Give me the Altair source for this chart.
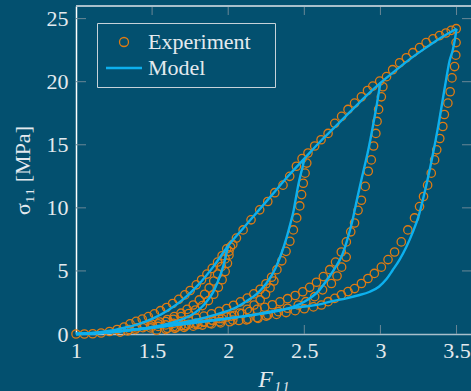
import altair as alt
import pandas as pd

# ---------------- data ----------------
series_names = ["Experiment", "Model"]

x_ticks = [1.5, 2.0, 2.5, 3.0, 3.5]
y_ticks = [5, 10, 15, 20, 25]
x_labels = [1, 1.5, 2, 2.5, 3, 3.5]
y_labels = [0, 5, 10, 15, 20, 25]

# Model: primary loading curve
m_primary_F = [1.00, 1.10, 1.20, 1.30, 1.40, 1.50, 1.60, 1.70, 1.80, 1.90, 2.00, 2.10, 2.20,
               2.30, 2.40, 2.50, 2.60, 2.70, 2.80, 2.90, 3.00, 3.10, 3.20, 3.30, 3.40, 3.50]
m_primary_S = [0.00, 0.08, 0.22, 0.45, 0.75, 1.20, 1.85, 2.70, 3.85, 5.30, 7.00, 8.40, 9.80,
               11.20, 12.60, 13.90, 15.20, 16.40, 17.60, 18.80, 19.90, 20.90, 21.85, 22.70, 23.50, 24.20]
# Model: unloading curves
m_un1_F = [2.00, 1.99, 1.975, 1.955, 1.93, 1.90, 1.86, 1.81, 1.75, 1.68, 1.60, 1.50, 1.40, 1.30, 1.20, 1.10, 1.00]
m_un1_S = [7.00, 6.50, 5.70, 4.90, 4.10, 3.30, 2.60, 1.95, 1.45, 1.10, 0.80, 0.55, 0.37, 0.22, 0.11, 0.04, 0.00]
m_un2_F = [2.50, 2.49, 2.475, 2.46, 2.445, 2.43, 2.405, 2.38, 2.35, 2.31, 2.25, 2.19, 2.12, 2.05,
           1.95, 1.80, 1.60, 1.40, 1.20, 1.00]
m_un2_S = [13.90, 13.30, 12.60, 11.80, 10.80, 9.80, 8.60, 7.50, 6.40, 5.20, 4.00, 3.20, 2.60, 2.10,
           1.65, 1.15, 0.70, 0.38, 0.13, 0.00]
m_un3_F = [3.00, 2.99, 2.975, 2.96, 2.94, 2.915, 2.885, 2.85, 2.82, 2.79, 2.75, 2.70, 2.65, 2.60,
           2.50, 2.40, 2.25, 2.10, 1.90, 1.70, 1.50, 1.30, 1.10, 1.00]
m_un3_S = [19.90, 19.20, 18.10, 17.10, 15.80, 14.30, 12.75, 10.90, 9.20, 7.80, 6.30, 5.20, 4.30, 3.50,
           2.55, 2.05, 1.65, 1.40, 1.10, 0.80, 0.50, 0.25, 0.06, 0.00]
m_un4_F = [3.50, 3.49, 3.475, 3.455, 3.425, 3.38, 3.337, 3.29, 3.25, 3.21, 3.17, 3.126, 3.08, 3.04,
           2.99, 2.93, 2.85, 2.776, 2.67, 2.60, 2.45, 2.34, 2.20, 2.01, 1.80, 1.60, 1.40, 1.20, 1.00]
m_un4_S = [24.20, 23.40, 22.50, 21.70, 19.70, 16.50, 13.80, 11.20, 9.30, 8.00, 6.90, 5.90, 5.05, 4.35,
           3.75, 3.35, 3.05, 2.83, 2.57, 2.35, 2.10, 1.90, 1.60, 1.25, 0.92, 0.62, 0.36, 0.12, 0.00]

# Experiment: measured points, branch by branch
e_load1_F = [1.00, 1.055, 1.11, 1.165, 1.22, 1.27, 1.315, 1.355, 1.395, 1.435, 1.475, 1.515, 1.555,
             1.595, 1.635, 1.675, 1.715, 1.75, 1.79, 1.825, 1.86, 1.895, 1.93, 1.96, 1.99]
e_load1_S = [0.00, 0.00, 0.02, 0.08, 0.20, 0.36, 0.55, 0.80, 1.00, 1.18, 1.38, 1.60, 1.85,
             2.10, 2.42, 2.75, 3.10, 3.45, 3.90, 4.30, 4.75, 5.20, 5.70, 6.20, 6.75]
e_un1_F = [2.015, 2.005, 1.995, 1.98, 1.96, 1.935, 1.905, 1.87, 1.83, 1.785, 1.74, 1.69, 1.64, 1.59,
           1.54, 1.49, 1.44, 1.39, 1.34, 1.29]
e_un1_S = [6.90, 6.25, 5.60, 4.95, 4.30, 3.70, 3.15, 2.65, 2.25, 1.90, 1.62, 1.38, 1.17, 0.98,
           0.80, 0.64, 0.50, 0.37, 0.25, 0.15]
e_load2_F = [1.35, 1.40, 1.45, 1.50, 1.55, 1.60, 1.645, 1.69, 1.73, 1.77, 1.81, 1.845, 1.875, 1.905,
             1.93, 1.955, 1.98, 2.005, 2.03, 2.054, 2.098, 2.15, 2.207, 2.26, 2.306, 2.36, 2.404,
             2.448, 2.485]
e_load2_S = [0.35, 0.48, 0.62, 0.78, 0.95, 1.15, 1.38, 1.65, 1.95, 2.30, 2.70, 3.15, 3.65, 4.20,
             4.75, 5.35, 5.95, 6.55, 7.10, 7.60, 8.25, 9.05, 9.84, 10.50, 11.20, 11.80, 12.50,
             13.30, 13.90]
e_un2_F = [2.524, 2.516, 2.505, 2.493, 2.482, 2.47, 2.45, 2.428, 2.405, 2.38, 2.352, 2.32, 2.285,
           2.248, 2.21, 2.168, 2.125, 2.08, 2.035, 1.99, 1.94, 1.89, 1.84, 1.79, 1.74, 1.69, 1.64,
           1.59, 1.54, 1.49]
e_un2_S = [14.35, 13.55, 12.75, 11.95, 11.05, 10.15, 9.20, 8.25, 7.35, 6.55, 5.80, 5.10, 4.50,
           3.98, 3.55, 3.18, 2.85, 2.55, 2.28, 2.02, 1.80, 1.60, 1.42, 1.26, 1.12, 0.98, 0.85,
           0.72, 0.60, 0.48]
e_load3_F = [1.60, 1.66, 1.72, 1.78, 1.84, 1.90, 1.96, 2.02, 2.075, 2.125, 2.17, 2.21, 2.245, 2.275,
             2.30, 2.568, 2.61, 2.656, 2.70, 2.745, 2.787, 2.83, 2.875, 2.915, 2.95, 2.995]
e_load3_S = [0.45, 0.55, 0.66, 0.78, 0.92, 1.06, 1.22, 1.42, 1.66, 1.95, 2.30, 2.70, 3.15, 3.65,
             4.20, 14.90, 15.40, 15.90, 16.70, 17.25, 17.80, 18.30, 18.80, 19.30, 19.65, 20.05]
e_un3_F = [3.016, 3.006, 2.988, 2.978, 2.97, 2.955, 2.94, 2.92, 2.90, 2.875, 2.853, 2.83, 2.805,
           2.776, 2.743, 2.705, 2.667, 2.625, 2.58, 2.535, 2.49, 2.44, 2.39, 2.34, 2.29, 2.24,
           2.19, 2.14, 2.09, 2.04, 1.99, 1.94, 1.89, 1.84, 1.79, 1.74, 1.69, 1.64]
e_un3_S = [19.60, 18.80, 17.80, 16.85, 15.90, 14.90, 13.80, 12.90, 11.70, 10.60, 9.80, 8.80, 8.10,
           7.30, 6.50, 5.70, 5.10, 4.55, 4.10, 3.70, 3.35, 3.05, 2.80, 2.55, 2.32, 2.12,
           1.95, 1.78, 1.62, 1.48, 1.35, 1.22, 1.10, 0.98, 0.87, 0.77, 0.67, 0.58]
e_load4_F = [1.72, 1.80, 1.88, 1.945, 2.03, 2.12, 2.196, 2.26, 2.33, 2.39, 2.46, 2.51, 2.568, 2.62,
             2.678, 2.715, 2.745, 2.775, 3.04, 3.08, 3.126, 3.17, 3.213, 3.257, 3.30, 3.345,
             3.388, 3.43, 3.465, 3.498]
e_load4_S = [0.65, 0.75, 0.85, 0.98, 1.10, 1.12, 1.24, 1.50, 1.77, 2.04, 2.30, 2.56, 2.96, 3.50,
             4.00, 4.60, 5.30, 6.10, 20.40, 20.95, 21.50, 21.90, 22.30, 22.70, 23.10, 23.40,
             23.65, 23.86, 24.07, 24.20]
e_un4_F = [3.497, 3.495, 3.487, 3.47, 3.458, 3.443, 3.42, 3.41, 3.39, 3.37, 3.356, 3.334, 3.31,
           3.283, 3.257, 3.224, 3.18, 3.137, 3.093, 3.05, 3.006, 2.96, 2.918, 2.875, 2.83, 2.787,
           2.743, 2.70, 2.656, 2.612, 2.56, 2.50, 2.44, 2.38, 2.317, 2.25, 2.19, 2.13, 2.07, 2.01,
           1.95, 1.89, 1.83, 1.77, 1.71, 1.65, 1.59, 1.53]
e_un4_S = [23.10, 22.10, 21.20, 20.30, 19.20, 18.30, 17.40, 16.45, 15.50, 14.60, 13.80, 12.75, 11.80,
           10.90, 10.10, 9.20, 8.25, 7.30, 6.50, 5.90, 5.30, 4.80, 4.40, 4.00, 3.60, 3.36,
           3.10, 2.83, 2.56, 2.30, 2.15, 2.00, 1.85, 1.70, 1.55, 1.42, 1.30, 1.18, 1.07, 0.97,
           0.88, 0.80, 0.71, 0.62, 0.53, 0.45, 0.37, 0.30]

# ---------------- tables ----------------
model_rows = []
for name, F, S in [("primary", m_primary_F, m_primary_S), ("un1", m_un1_F, m_un1_S),
                   ("un2", m_un2_F, m_un2_S), ("un3", m_un3_F, m_un3_S), ("un4", m_un4_F, m_un4_S)]:
    for f, s in zip(F, S):
        model_rows.append({"branch": name, "F": f, "S": s, "series": "Model"})
model_df = pd.DataFrame(model_rows)

exp_rows = []
for F, S in [(e_load1_F, e_load1_S), (e_un1_F, e_un1_S), (e_load2_F, e_load2_S), (e_un2_F, e_un2_S),
             (e_load3_F, e_load3_S), (e_un3_F, e_un3_S), (e_load4_F, e_load4_S), (e_un4_F, e_un4_S)]:
    for f, s in zip(F, S):
        exp_rows.append({"F": f, "S": s, "series": "Experiment"})
exp_df = pd.DataFrame(exp_rows)

xt_df = pd.DataFrame({"F": x_ticks})
yt_df = pd.DataFrame({"S": y_ticks})

# ---------------- style ----------------
BG = "#03506f"
ORANGE = "#e07b12"
BLUE = "#0db0ee"
TXT = "#e4eaee"
FRAME = "#a9bfcb"
TICK = "#6a8796"
FONT = "Liberation Serif"
W, H = 395, 328

xscale = alt.Scale(domain=[1, 3.595], nice=False, zero=False)
yscale = alt.Scale(domain=[0, 26], nice=False, zero=False)

xaxis = alt.Axis(values=x_labels, format=".1~f", grid=False, ticks=False, tickSize=0,
                 domainColor=FRAME, domainWidth=1.5, labelFont=FONT, labelFontSize=22,
                 labelColor=TXT, labelPadding=6, labelFlush=False, labelOverlap=False,
                 titleFont=FONT, titleFontSize=24, titleFontStyle="italic",
                 titleFontWeight="normal", titleColor=TXT, titlePadding=6)
yaxis = alt.Axis(values=y_labels, format="d", grid=False, ticks=False, tickSize=0,
                 domainColor="#ffffff", domainWidth=1.5, labelFont=FONT, labelFontSize=22,
                 labelColor=TXT, labelPadding=8, labelFlush=False, labelOverlap=False,
                 titleFont=FONT, titleFontSize=22, titleFontWeight="normal",
                 titleColor=TXT, titlePadding=12)

X = alt.X("F:Q", scale=xscale, axis=xaxis, title="F₁₁")
Y = alt.Y("S:Q", scale=yscale, axis=yaxis, title="σ₁₁ [MPa]")

legend = alt.Legend(title=None, orient="none", legendX=21, legendY=17,
                    labelFont=FONT, labelFontSize=22, labelColor=TXT,
                    labelExpr="datum.label + '\u2800'",
                    symbolSize=81, padding=8, rowPadding=4, labelOffset=13,
                    symbolOffset=8, strokeColor="#c6d2d9", fillColor=BG)

# ---------------- layers ----------------
top_line = alt.Chart(xt_df).mark_rule(color=FRAME, strokeWidth=1.5).encode(
    x=alt.value(0), x2=alt.value(W), y=alt.value(0))

ticks_top = alt.Chart(xt_df).mark_rule(color=TICK, strokeWidth=1).encode(
    x=X, y=alt.value(0), y2=alt.value(9))
ticks_bottom = alt.Chart(xt_df).mark_rule(color=TICK, strokeWidth=1).encode(
    x=X, y=alt.value(H - 9), y2=alt.value(H))
ticks_left = alt.Chart(yt_df).mark_rule(color=TICK, strokeWidth=1).encode(
    y=Y, x=alt.value(0), x2=alt.value(10))
ticks_right = alt.Chart(yt_df).mark_rule(color=TICK, strokeWidth=1).encode(
    y=Y, x=alt.value(W - 9), x2=alt.value(W))

points = alt.Chart(exp_df).mark_point(filled=False, opacity=1, size=70).encode(
    x=X, y=Y,
    color=alt.Color("series:N", scale=alt.Scale(domain=series_names, range=[ORANGE, BLUE]), legend=legend),
    shape=alt.Shape("series:N", scale=alt.Scale(domain=series_names, range=["circle", "M-4,0H4"]), legend=legend),
    strokeWidth=alt.StrokeWidth("series:N", scale=alt.Scale(domain=series_names, range=[1.3, 2.5]), legend=legend),
)

lines = alt.Chart(model_df).mark_line(color=BLUE, strokeWidth=2.4, interpolate="monotone").encode(
    x=X, y=Y, detail="branch:N", order="F:Q")

chart = alt.layer(ticks_top, ticks_bottom, ticks_left, ticks_right, top_line, points, lines).properties(
    width=W, height=H,
    padding={"left": 76, "top": 6, "right": 0, "bottom": 57},
    autosize=alt.AutoSizeParams(type="none"),
    background=BG,
).configure_view(strokeOpacity=0)

chart.save("out.html", embed_options={"renderer": "svg", "actions": False})
